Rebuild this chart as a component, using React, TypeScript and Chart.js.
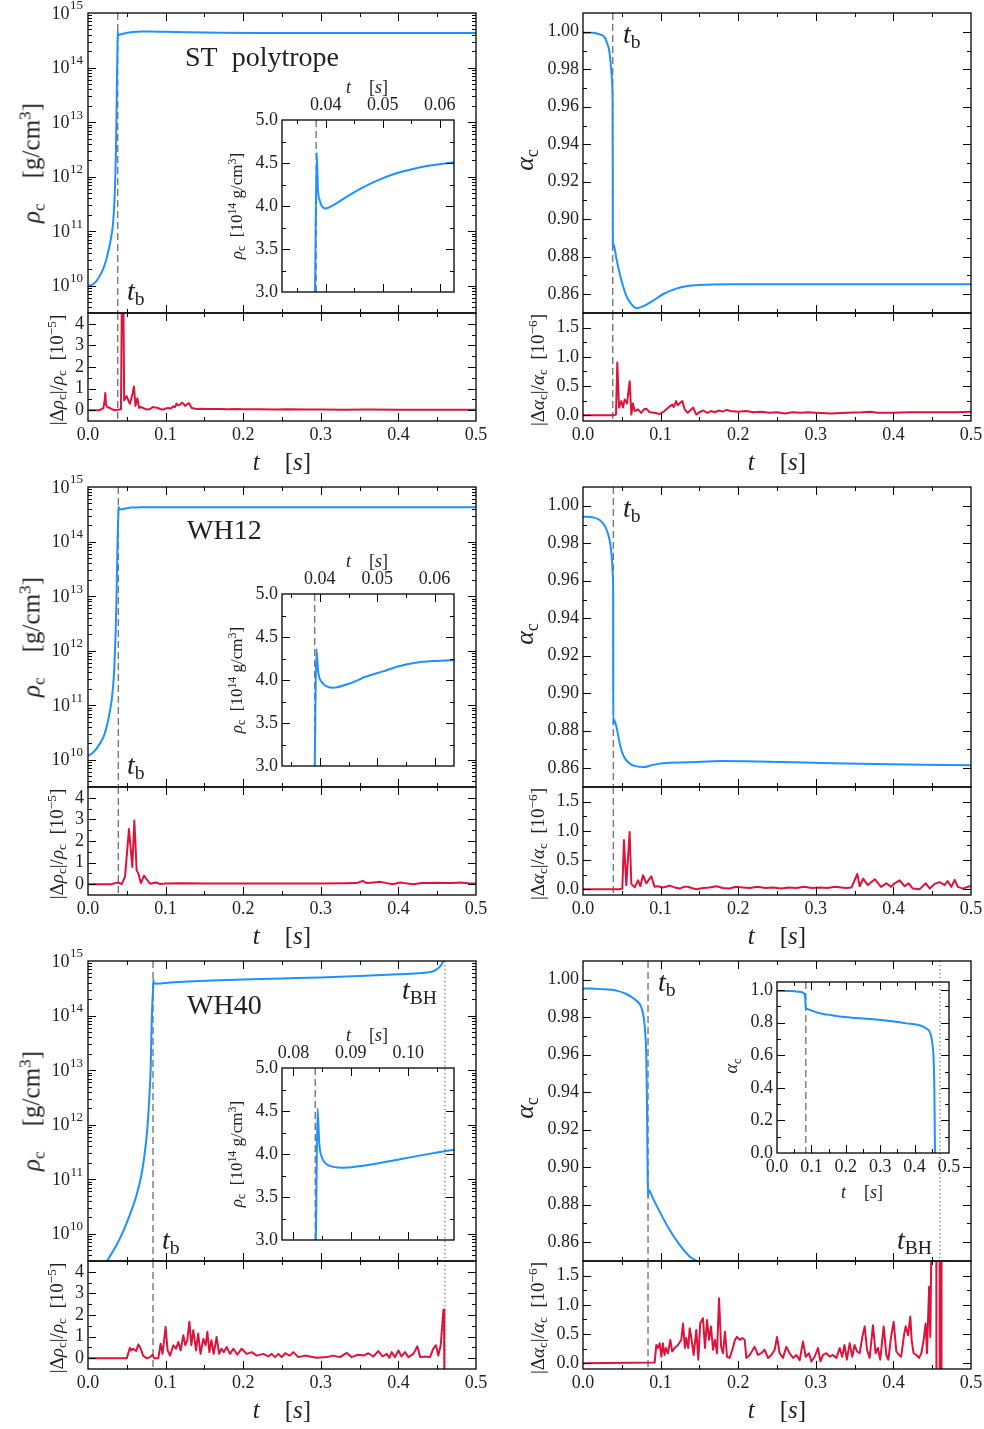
import React, { useEffect, useRef } from "react";
import { Chart, registerables } from "chart.js";
Chart.register(...registerables);

const FONT = '"Liberation Serif", "Times New Roman", serif';
const TXT = "#222222";
const BLUE = "#1e90ff";
const RED = "#dc143c";
const GUIDE = "#777777";

// ---------- ticks ----------
const T_MAJOR = [0, 0.1, 0.2, 0.3, 0.4, 0.5];
const T_MINOR = [0.05, 0.15, 0.25, 0.35, 0.45];
const T_LABELS = ["0.0", "0.1", "0.2", "0.3", "0.4", "0.5"];
const RHO_EXPONENTS = [10, 11, 12, 13, 14, 15];
const RHO_MIN = 10 ** 9.5;
const RHO_MAX = 1e15;
const RHO_MINOR = [9, 10, 11, 12, 13, 14]
  .flatMap((n) => [2, 3, 4, 5, 6, 7, 8, 9].map((k) => k * 10 ** n))
  .filter((v) => v > RHO_MIN && v < RHO_MAX);
const ALPHA_MAJOR = [0.86, 0.88, 0.9, 0.92, 0.94, 0.96, 0.98, 1.0];
const ALPHA_MINOR = [0.87, 0.89, 0.91, 0.93, 0.95, 0.97, 0.99];
const ALPHA_LABELS = ["0.86", "0.88", "0.90", "0.92", "0.94", "0.96", "0.98", "1.00"];
const DRHO_MAJOR = [0, 1, 2, 3, 4];
const DRHO_MINOR = [0.5, 1.5, 2.5, 3.5];
const DRHO_LABELS = ["0", "1", "2", "3", "4"];
const DALPHA_MAJOR = [0, 0.5, 1.0, 1.5];
const DALPHA_MINOR = [0.25, 0.75, 1.25];
const DALPHA_LABELS = ["0.0", "0.5", "1.0", "1.5"];
const INSET_RHO_MAJOR = [3.0, 3.5, 4.0, 4.5, 5.0];
const INSET_RHO_MINOR = [3.25, 3.75, 4.25, 4.75];
const INSET_RHO_LABELS = ["3.0", "3.5", "4.0", "4.5", "5.0"];
const INSET_T_EARLY_MAJOR = [0.04, 0.05, 0.06];
const INSET_T_EARLY_MINOR = [0.035, 0.045, 0.055];
const INSET_T_EARLY_LABELS = ["0.04", "0.05", "0.06"];
const INSET_T_LATE_MAJOR = [0.08, 0.09, 0.1];
const INSET_T_LATE_MINOR = [0.085, 0.095, 0.105];
const INSET_T_LATE_LABELS = ["0.08", "0.09", "0.10"];
const INSET_ALPHA_MAJOR = [0, 0.2, 0.4, 0.6, 0.8, 1.0];
const INSET_ALPHA_MINOR = [0.1, 0.3, 0.5, 0.7, 0.9];
const INSET_ALPHA_LABELS = ["0.0", "0.2", "0.4", "0.6", "0.8", "1.0"];

// ---------- event times ----------
const ST_TB = 0.0383;
const WH12_TB = 0.0391;
const WH40_TB = 0.0838;
const WH40_TBH = 0.46;

// ---------- ST polytrope ----------
const ST_RHO = [[0,1.0e10],[0.005,1.04e10],[0.01,1.18e10],[0.015,1.5e10],[0.02,2.1e10],[0.024,3.2e10],[0.027,4.8e10],[0.03,8.0e10],[0.032,1.26e11],[0.0335,2.5e11],[0.0345,5.0e11],[0.0352,1.0e12],[0.036,3.0e12],[0.0366,1.0e13],[0.0371,3.5e13],[0.0375,1.0e14],[0.0379,2.0e14],[0.0381,3.0e14],[0.0384,4.62e14],[0.0386,4.2e14],[0.0389,4.07e14],[0.0393,4.0e14],[0.0399,3.97e14],[0.0413,4.01e14],[0.0437,4.11e14],[0.0466,4.22e14],[0.0495,4.31e14],[0.0524,4.38e14],[0.0553,4.43e14],[0.0583,4.47e14],[0.0625,4.51e14],[0.07,4.56e14],[0.08,4.58e14],[0.1,4.52e14],[0.13,4.42e14],[0.17,4.35e14],[0.22,4.31e14],[0.3,4.3e14],[0.4,4.3e14],[0.5,4.3e14]];
const ST_DRHO = [[0,0],[0.015,0],[0.0198,0.1],[0.0215,0.45],[0.0223,0.8],[0.0232,0.25],[0.025,0.15],[0.0284,0.1],[0.032,0.03],[0.0348,0],[0.038,0.02],[0.0412,0.03],[0.0425,0.05],[0.0437,5.5],[0.0455,5.5],[0.0466,0.45],[0.0482,0.55],[0.0498,0.65],[0.052,0.45],[0.054,0.3],[0.0555,0.5],[0.0576,0.8],[0.0592,1.1],[0.0612,0.2],[0.0636,0.55],[0.066,0.1],[0.068,0.15],[0.071,0.1],[0.075,0.04],[0.078,0.03],[0.081,0.08],[0.084,0.15],[0.087,0.12],[0.09,0.1],[0.094,0.04],[0.097,0.03],[0.1,0.08],[0.1035,0.1],[0.107,0.08],[0.11,0.18],[0.112,0.15],[0.114,0.3],[0.116,0.22],[0.1186,0.26],[0.121,0.35],[0.123,0.3],[0.125,0.2],[0.127,0.25],[0.13,0.33],[0.1336,0.1],[0.137,0.08],[0.14,0.06],[0.145,0.07],[0.153,0.06],[0.16,0.05],[0.17,0.06],[0.18,0.04],[0.19,0.05],[0.2,0.04],[0.22,0.04],[0.24,0.03],[0.26,0.04],[0.28,0.03],[0.3,0.03],[0.33,0.02],[0.36,0.03],[0.4,0.02],[0.45,0.02],[0.5,0.02]];
const ST_ALPHA = [[0,0.9995],[0.013,0.9995],[0.0215,0.9986],[0.028,0.997],[0.031,0.994],[0.0335,0.9906],[0.035,0.986],[0.0365,0.979],[0.0376,0.972],[0.0381,0.962],[0.0383,0.93],[0.0384,0.886],[0.0388,0.885],[0.0394,0.8867],[0.043,0.879],[0.047,0.8716],[0.0515,0.8645],[0.056,0.859],[0.0623,0.8547],[0.0687,0.8526],[0.0773,0.8535],[0.09,0.8565],[0.103,0.86],[0.12,0.863],[0.137,0.8645],[0.16,0.8651],[0.2,0.8653],[0.3,0.8654],[0.4,0.8653],[0.5,0.8654]];
const ST_DALPHA = [[0,0],[0.04,0],[0.0425,0.01],[0.0442,0.9],[0.0464,0.13],[0.0494,0.24],[0.0515,0.13],[0.0537,0.27],[0.0567,0.2],[0.0601,0.58],[0.0623,0.01],[0.0644,0.2],[0.0666,0.07],[0.0709,0.1],[0.075,0.04],[0.0785,0.1],[0.0816,0.11],[0.086,0.05],[0.092,0.04],[0.0988,0.02],[0.105,0.07],[0.1117,0.15],[0.115,0.18],[0.117,0.14],[0.12,0.24],[0.122,0.17],[0.125,0.21],[0.128,0.24],[0.131,0.1],[0.135,0.04],[0.142,0.13],[0.146,0.01],[0.15,0.05],[0.155,0.08],[0.16,0.04],[0.165,0.07],[0.17,0.05],[0.175,0.08],[0.18,0.06],[0.185,0.09],[0.19,0.07],[0.2,0.06],[0.21,0.07],[0.22,0.05],[0.23,0.06],[0.24,0.04],[0.25,0.05],[0.26,0.03],[0.27,0.05],[0.28,0.04],[0.29,0.05],[0.3,0.04],[0.32,0.03],[0.34,0.04],[0.36,0.05],[0.37,0.06],[0.38,0.04],[0.4,0.04],[0.42,0.05],[0.45,0.05],[0.48,0.05],[0.5,0.06]];

// ---------- WH12 ----------
const WH12_RHO = [[0,1.18e10],[0.005,1.3e10],[0.011,1.6e10],[0.0198,2.6e10],[0.024,4.0e10],[0.0284,8.0e10],[0.0314,1.6e11],[0.034,5.0e11],[0.0357,2.3e12],[0.0368,1.0e13],[0.0378,6.0e13],[0.0386,2.0e14],[0.0391,3.0e14],[0.0394,4.36e14],[0.0397,4.1e14],[0.0403,3.98e14],[0.0414,3.92e14],[0.0423,3.91e14],[0.0452,3.96e14],[0.0481,4.04e14],[0.051,4.1e14],[0.0538,4.16e14],[0.0567,4.2e14],[0.0596,4.22e14],[0.0632,4.23e14],[0.07,4.25e14],[0.08,4.26e14],[0.1,4.27e14],[0.2,4.26e14],[0.3,4.25e14],[0.4,4.25e14],[0.5,4.25e14]];
const WH12_DRHO = [[0,0],[0.03,0],[0.0348,0.05],[0.039,0.08],[0.0434,0],[0.0477,0.35],[0.0528,2.55],[0.0571,0.8],[0.0597,2.95],[0.0627,0.64],[0.0649,0.5],[0.067,0.2],[0.0683,0.05],[0.0722,0.4],[0.0756,0.23],[0.0799,0.02],[0.0876,0.08],[0.093,0.01],[0.1,0.03],[0.12,0.04],[0.15,0.03],[0.2,0.03],[0.25,0.03],[0.3,0.03],[0.33,0.04],[0.346,0.05],[0.354,0.15],[0.359,0.05],[0.368,0.08],[0.376,0.11],[0.385,0.05],[0.393,0],[0.402,0.08],[0.408,0.05],[0.419,0],[0.43,0.06],[0.44,0.05],[0.45,0.07],[0.462,0.06],[0.47,0.05],[0.479,0.08],[0.49,0.04],[0.5,0.03]];
const WH12_ALPHA = [[0,0.9942],[0.0129,0.9938],[0.0215,0.9924],[0.028,0.9894],[0.0322,0.985],[0.0352,0.9796],[0.0374,0.971],[0.0384,0.963],[0.0389,0.95],[0.039,0.8832],[0.0396,0.8862],[0.043,0.8823],[0.0472,0.8735],[0.0515,0.8673],[0.058,0.8632],[0.0687,0.861],[0.0795,0.8607],[0.09,0.8618],[0.103,0.8627],[0.137,0.8632],[0.18,0.8639],[0.223,0.8636],[0.309,0.8628],[0.395,0.8621],[0.5,0.8616]];
const WH12_DALPHA = [[0,0],[0.047,0],[0.0507,0.01],[0.0528,0.84],[0.0558,0.07],[0.0601,0.98],[0.0623,0.09],[0.0666,0.03],[0.0709,0.15],[0.0739,0.05],[0.0773,0.24],[0.0816,0.1],[0.088,0.22],[0.0923,0.04],[0.0966,0.05],[0.103,0.03],[0.1117,0.06],[0.118,0.03],[0.1246,0.01],[0.13,0.04],[0.135,0.04],[0.14,0.02],[0.146,0],[0.155,0.02],[0.163,0.03],[0.172,0.05],[0.18,0.02],[0.189,0.01],[0.197,0.04],[0.206,0.03],[0.215,0.02],[0.225,0.04],[0.235,0.02],[0.245,0.03],[0.255,0.01],[0.265,0.03],[0.275,0.02],[0.285,0.04],[0.295,0.02],[0.305,0.03],[0.315,0.02],[0.325,0.04],[0.333,0.03],[0.339,0.02],[0.346,0.03],[0.3535,0.26],[0.3565,0.05],[0.361,0.18],[0.367,0.07],[0.376,0.17],[0.384,0.04],[0.391,0.1],[0.397,0.04],[0.4016,0.1],[0.408,0.15],[0.4145,0.05],[0.4197,0.1],[0.425,0.01],[0.434,0],[0.4416,0.1],[0.447,0.01],[0.453,0.09],[0.4596,0.12],[0.466,0.07],[0.47,0.14],[0.4746,0.04],[0.479,0.16],[0.483,0.04],[0.4897,0.01],[0.498,0.05],[0.5,0.05]];

// ---------- WH40 ----------
const WH40_RHO = [[0,1.2e9],[0.0232,2.95e9],[0.0284,3.9e9],[0.037,6.3e9],[0.0455,1.12e10],[0.054,2.24e10],[0.0627,5.2e10],[0.069,1.23e11],[0.0735,3.3e11],[0.0765,8.7e11],[0.079,3.1e12],[0.0808,1.1e13],[0.082,6.9e13],[0.0833,2.2e14],[0.0839,3.0e14],[0.0842,4.53e14],[0.0845,4.12e14],[0.0849,3.97e14],[0.0858,3.88e14],[0.087,3.85e14],[0.0887,3.84e14],[0.0928,3.87e14],[0.0986,3.94e14],[0.1044,4.01e14],[0.108,4.05e14],[0.13,4.2e14],[0.16,4.4e14],[0.2,4.6e14],[0.25,4.8e14],[0.3,5.0e14],[0.35,5.3e14],[0.4,5.7e14],[0.43,6.0e14],[0.445,6.5e14],[0.452,7.5e14],[0.456,8.8e14],[0.459,1.1e15],[0.4605,1.4e15]];
const WH40_DRHO = [[0,0],[0.05,0],[0.054,0.48],[0.056,0.36],[0.058,0.44],[0.062,0.33],[0.065,0.64],[0.068,0.44],[0.071,0.12],[0.0756,0],[0.08,0.05],[0.0833,0.16],[0.085,0],[0.0906,0],[0.0936,0.67],[0.096,0.2],[0.1,1.45],[0.1026,0.36],[0.1057,0.12],[0.11,0.6],[0.1134,0.44],[0.1164,0.75],[0.1194,0.36],[0.1228,1.06],[0.1254,0.6],[0.128,0.83],[0.1306,1.69],[0.1332,0.6],[0.1357,1.3],[0.1392,0.36],[0.142,1.14],[0.145,0.2],[0.1486,0.9],[0.1516,0.6],[0.1538,1.22],[0.1564,0.28],[0.159,0.83],[0.162,0.2],[0.1658,0.98],[0.169,0.2],[0.172,0.44],[0.175,0.28],[0.1787,0.52],[0.183,0.2],[0.1873,0.44],[0.1924,0.16],[0.198,0.44],[0.2045,0.2],[0.211,0.28],[0.2174,0.12],[0.226,0.2],[0.2324,0.08],[0.2367,0.2],[0.241,0.05],[0.2453,0.2],[0.2496,0.05],[0.254,0.23],[0.26,0.12],[0.2646,0.28],[0.271,0.05],[0.2796,0.12],[0.286,0.08],[0.2947,0.02],[0.3076,0.05],[0.316,0.12],[0.3247,0.05],[0.3333,0.25],[0.3398,0.05],[0.348,0.16],[0.3548,0.12],[0.3613,0.23],[0.3677,0.08],[0.3741,0.33],[0.3797,0.08],[0.385,0.2],[0.3883,0.02],[0.3913,0.28],[0.3956,0.05],[0.4,0.36],[0.404,0.08],[0.4085,0.28],[0.4128,0.05],[0.4193,0.2],[0.4244,0.55],[0.428,0.05],[0.4343,0.08],[0.4407,0.05],[0.445,0.44],[0.4485,0.6],[0.4514,0.12],[0.4545,0.6],[0.458,2.23],[0.4588,2.25],[0.4592,-1]];
const WH40_ALPHA = [[0,0.9954],[0.0215,0.995],[0.043,0.9942],[0.0558,0.9924],[0.0644,0.9903],[0.0709,0.988],[0.0752,0.9853],[0.0782,0.98],[0.0803,0.9711],[0.0816,0.9587],[0.0825,0.932],[0.0833,0.8967],[0.0838,0.8843],[0.085,0.8878],[0.0902,0.8834],[0.0988,0.8763],[0.1117,0.8665],[0.1246,0.8586],[0.1375,0.8524],[0.147,0.8497],[0.16,0.8455],[0.182,0.838],[0.23,0.829],[0.28,0.821],[0.3275,0.81],[0.376,0.796],[0.4147,0.784],[0.434,0.765],[0.4457,0.735],[0.4515,0.673],[0.4554,0.57],[0.4574,0.388],[0.4593,0.0],[0.46,-0.1]];
const WH40_DALPHA = [[0,0],[0.0923,0.01],[0.0945,0.31],[0.0966,0.26],[0.0988,0.34],[0.101,0.11],[0.103,0.34],[0.105,0.14],[0.107,0.26],[0.1095,0.17],[0.1125,0.4],[0.115,0.2],[0.118,0.26],[0.1224,0.31],[0.1267,0.4],[0.1289,0.68],[0.1314,0.26],[0.133,0.43],[0.1357,0.26],[0.1375,0.6],[0.14,0.4],[0.1426,0.14],[0.146,0.57],[0.1486,0.06],[0.151,0.68],[0.1546,0.77],[0.1572,0.26],[0.1598,0.74],[0.1624,0.4],[0.165,0.63],[0.1675,0.23],[0.17,0.4],[0.1727,0.17],[0.1753,1.11],[0.178,0.28],[0.1804,0.17],[0.183,0.54],[0.1856,0.11],[0.189,0.09],[0.1924,0.23],[0.1959,0.4],[0.1985,0.45],[0.202,0.4],[0.2053,0.43],[0.2083,0.4],[0.2105,0.09],[0.2148,0.14],[0.2212,0.28],[0.2255,0.14],[0.2298,0.17],[0.234,0.23],[0.2384,0.09],[0.2427,0.14],[0.247,0.23],[0.25,0.45],[0.2534,0.17],[0.2577,0.09],[0.262,0.28],[0.2663,0.17],[0.2706,0.09],[0.275,0.14],[0.2792,0.05],[0.2835,0.37],[0.287,0.11],[0.2912,0.17],[0.2943,0.03],[0.2985,0.11],[0.3028,0.26],[0.306,0.03],[0.3093,0.14],[0.3136,0.17],[0.318,0.11],[0.322,0.14],[0.3265,0.09],[0.3308,0.26],[0.334,0.11],[0.337,0.31],[0.34,0.06],[0.3436,0.34],[0.347,0.11],[0.35,0.31],[0.353,0.2],[0.3565,0.17],[0.36,0.45],[0.363,0.63],[0.366,0.23],[0.3694,0.09],[0.3737,0.65],[0.377,0.17],[0.38,0.26],[0.383,0.06],[0.3875,0.63],[0.3909,0.14],[0.3935,0.06],[0.397,0.45],[0.4003,0.71],[0.4038,0.2],[0.4072,0.14],[0.41,0.11],[0.4137,0.48],[0.4158,0.63],[0.419,0.48],[0.4218,0.8],[0.4235,0.4],[0.426,0.17],[0.4296,0.14],[0.433,0.09],[0.436,0.17],[0.439,0.4],[0.4416,0.68],[0.4433,0.17],[0.446,1.31],[0.4476,0.45],[0.4493,2.5],[0.4553,2.5],[0.4555,-1],[0.4594,-1],[0.4596,2.5],[0.4618,2.5],[0.462,-1]];

// ---------- layout ----------
const PL = 72, PR = 28, PT = 28, PB = 30;
const MAJ = 8, MIN = 4;

function axisOpts(a: any, horiz: boolean, top: boolean) {
  const showLabels = !!a.labels && !a.log;
  return {
    type: a.log ? "logarithmic" : "linear",
    position: horiz ? (top ? "top" : "bottom") : "left",
    min: a.min,
    max: a.max,
    grid: { display: false, drawTicks: false },
    border: { display: false },
    ticks: {
      display: showLabels,
      autoSkip: false,
      maxRotation: 0,
      minRotation: 0,
      padding: horiz ? (top ? 4 : 3) : 4,
      color: TXT,
      font: { family: FONT, size: 18 },
      callback: (_v: any, i: number) => (a.labels ? a.labels[i] : ""),
    },
    afterBuildTicks: (s: any) => {
      s.ticks = a.major.map((v: number) => ({ value: v }));
    },
    afterFit: (s: any) => {
      if (horiz) s.height = top ? PT : PB;
      else s.width = PL;
    },
  };
}

function framePlugin(spec: any) {
  return {
    id: "frame",
    beforeDatasetsDraw(chart: any) {
      const { ctx, chartArea: a, scales } = chart;
      ctx.save();
      ctx.beginPath();
      ctx.rect(a.left, a.top, a.right - a.left, a.bottom - a.top);
      ctx.clip();
      for (const v of spec.vlines) {
        const px = scales.x.getPixelForValue(v.x);
        ctx.strokeStyle = GUIDE;
        ctx.lineWidth = v.kind === "dash" ? 1.4 : 1.3;
        ctx.setLineDash(v.kind === "dash" ? [7, 4] : [1.3, 2.7]);
        ctx.beginPath();
        ctx.moveTo(px, a.top);
        ctx.lineTo(px, a.bottom);
        ctx.stroke();
      }
      ctx.restore();
    },
    afterDraw(chart: any) {
      const { ctx, chartArea: a, scales } = chart;
      const xs = scales.x, ys = scales.y;
      ctx.save();
      ctx.strokeStyle = "#000";
      ctx.lineWidth = 1;
      const seg = (x1: number, y1: number, x2: number, y2: number) => {
        ctx.beginPath();
        ctx.moveTo(x1, y1);
        ctx.lineTo(x2, y2);
        ctx.stroke();
      };
      const xt = (vals: number[], len: number) =>
        vals.forEach((v) => {
          const p = Math.round(xs.getPixelForValue(v)) + 0.5;
          if (p < a.left + 1 || p > a.right - 1) return;
          seg(p, a.top, p, a.top + len);
          seg(p, a.bottom, p, a.bottom - len);
        });
      const yt = (vals: number[], len: number) =>
        vals.forEach((v) => {
          const p = Math.round(ys.getPixelForValue(v)) + 0.5;
          if (p < a.top + 1 || p > a.bottom - 1) return;
          seg(a.left, p, a.left + len, p);
          seg(a.right, p, a.right - len, p);
        });
      xt(spec.x.major, MAJ);
      xt(spec.x.minor, MIN);
      yt(spec.y.major, MAJ);
      yt(spec.y.minor, MIN);
      ctx.lineWidth = 1.3;
      ctx.strokeRect(a.left, a.top, a.right - a.left, a.bottom - a.top);
      if (spec.y.log) {
        ctx.fillStyle = TXT;
        ctx.textBaseline = "middle";
        ctx.textAlign = "right";
        for (const n of spec.y.exps) {
          const py = ys.getPixelForValue(10 ** n);
          ctx.font = `13px ${FONT}`;
          const ex = String(n);
          const w = ctx.measureText(ex).width;
          ctx.fillText(ex, a.left - 5, py - 7);
          ctx.font = `18px ${FONT}`;
          ctx.fillText("10", a.left - 5 - w - 0.5, py + 1);
        }
      }
      ctx.restore();
    },
  };
}

function Panel({ spec }: { spec: any }) {
  const ref = useRef<HTMLCanvasElement>(null);
  const cw = spec.w + PL + PR;
  const ch = spec.h + PT + PB;
  const top = spec.x.pos === "top";
  useEffect(() => {
    const chart = new Chart(ref.current as HTMLCanvasElement, {
      type: "line",
      data: {
        datasets: spec.series.map((s: any) => ({
          data: s.pts.map(([t, v]: number[]) => ({ x: t, y: v * (s.scale ?? 1) })),
          borderColor: s.color,
          borderWidth: 2,
          pointRadius: 0,
          tension: 0,
          cubicInterpolationMode: s.smooth ? "monotone" : "default",
          borderJoinStyle: "round",
          fill: false,
        })),
      },
      options: {
        animation: false,
        responsive: false,
        devicePixelRatio: 1,
        events: [],
        layout: {
          autoPadding: false,
          padding: { left: 0, right: PR, top: top ? 0 : PT, bottom: top ? PB : 0 },
        },
        plugins: { legend: { display: false }, tooltip: { enabled: false } },
        scales: {
          x: axisOpts(spec.x, true, top),
          y: axisOpts(spec.y, false, false),
        },
      } as any,
      plugins: [framePlugin(spec)],
    });
    return () => chart.destroy();
  }, []);
  return (
    <canvas
      ref={ref}
      width={cw}
      height={ch}
      style={{ position: "absolute", left: spec.left - PL, top: spec.top - PT, width: cw, height: ch }}
    />
  );
}

// ---------- text helpers ----------
const Sub = ({ children }: any) => (
  <span style={{ fontSize: "0.7em", verticalAlign: "-0.28em", lineHeight: 0, fontStyle: "normal" }}>{children}</span>
);
const Sup = ({ children }: any) => (
  <span style={{ fontSize: "0.7em", verticalAlign: "0.5em", lineHeight: 0, fontStyle: "normal" }}>{children}</span>
);
const I = ({ children }: any) => <span style={{ fontStyle: "italic" }}>{children}</span>;

function Txt({ x, y, size, align = "left", rot = false, children }: any) {
  const style: any = {
    position: "absolute",
    fontFamily: FONT,
    fontSize: size,
    lineHeight: 1,
    whiteSpace: "nowrap",
    color: TXT,
    left: x,
  };
  if (rot) {
    style.top = y;
    style.transform = "translate(-50%, -50%) rotate(-90deg)";
  } else {
    style.top = y - 0.84 * size;
    if (align === "center") style.transform = "translateX(-50%)";
  }
  return <div style={style}>{children}</div>;
}

// ---------- specs ----------
const MODELS = [
  { name: "ST\u00a0\u00a0polytrope", rho: ST_RHO, drho: ST_DRHO, alpha: ST_ALPHA, dalpha: ST_DALPHA, tb: ST_TB, tbh: null as number | null,
    insetX: { min: 0.0323, max: 0.0625, major: INSET_T_EARLY_MAJOR, minor: INSET_T_EARLY_MINOR, labels: INSET_T_EARLY_LABELS } },
  { name: "WH12", rho: WH12_RHO, drho: WH12_DRHO, alpha: WH12_ALPHA, dalpha: WH12_DALPHA, tb: WH12_TB, tbh: null as number | null,
    insetX: { min: 0.0334, max: 0.0634, major: INSET_T_EARLY_MAJOR, minor: INSET_T_EARLY_MINOR, labels: INSET_T_EARLY_LABELS } },
  { name: "WH40", rho: WH40_RHO, drho: WH40_DRHO, alpha: WH40_ALPHA, dalpha: WH40_DALPHA, tb: WH40_TB, tbh: WH40_TBH as number | null,
    insetX: { min: 0.078, max: 0.108, major: INSET_T_LATE_MAJOR, minor: INSET_T_LATE_MINOR, labels: INSET_T_LATE_LABELS } },
];

const X_NOLAB = { min: 0, max: 0.5, major: T_MAJOR, minor: T_MINOR };
const X_LAB = { min: 0, max: 0.5, major: T_MAJOR, minor: T_MINOR, labels: T_LABELS };

function buildSpecs() {
  const specs: any[] = [];
  MODELS.forEach((m, r) => {
    const off = 474 * r;
    const vl = [{ x: m.tb, kind: "dash" }];
    if (m.tbh !== null) vl.push({ x: m.tbh, kind: "dot" });
    specs.push({ left: 88, top: 13 + off, w: 388, h: 300, x: X_NOLAB,
      y: { min: RHO_MIN, max: RHO_MAX, log: true, exps: RHO_EXPONENTS, major: RHO_EXPONENTS.map((n) => 10 ** n), minor: RHO_MINOR },
      series: [{ pts: m.rho, color: BLUE, smooth: true }], vlines: vl });
    specs.push({ left: 88, top: 313 + off, w: 388, h: 108, x: X_LAB,
      y: { min: -0.5, max: 4.5, major: DRHO_MAJOR, minor: DRHO_MINOR, labels: DRHO_LABELS },
      series: [{ pts: m.drho, color: RED }], vlines: vl });
    specs.push({ left: 583, top: 13 + off, w: 388, h: 300, x: X_NOLAB,
      y: { min: 0.85, max: 1.01, major: ALPHA_MAJOR, minor: ALPHA_MINOR, labels: ALPHA_LABELS },
      series: [{ pts: m.alpha, color: BLUE, smooth: true }], vlines: vl });
    specs.push({ left: 583, top: 313 + off, w: 388, h: 108, x: X_LAB,
      y: { min: -0.1, max: 1.75, major: DALPHA_MAJOR, minor: DALPHA_MINOR, labels: DALPHA_LABELS },
      series: [{ pts: m.dalpha, color: RED }], vlines: vl });
  });
  MODELS.forEach((m, r) => {
    const off = 474 * r;
    specs.push({ left: 282, top: 120 + off, w: 172, h: 172, x: { ...m.insetX, pos: "top" },
      y: { min: 3.0, max: 5.0, major: INSET_RHO_MAJOR, minor: INSET_RHO_MINOR, labels: INSET_RHO_LABELS },
      series: [{ pts: m.rho, color: BLUE, scale: 1e-14, smooth: true }], vlines: [{ x: m.tb, kind: "dash" }] });
  });
  specs.push({ left: 777, top: 982, w: 172, h: 171, x: X_LAB,
    y: { min: 0, max: 1.05, major: INSET_ALPHA_MAJOR, minor: INSET_ALPHA_MINOR, labels: INSET_ALPHA_LABELS },
    series: [{ pts: WH40_ALPHA, color: BLUE, smooth: true }], vlines: [{ x: WH40_TB, kind: "dash" }] });
  return specs;
}

const SPECS = buildSpecs();
const NAME_POS = [[185, 66.5], [187, 540], [187, 1015]];
const TB_LEFT = [[127, 301], [127, 775], [162, 1250]];
const TB_RIGHT = [[623, 44], [623, 518], [658, 992]];

export default function App() {
  return (
    <div style={{ position: "absolute", left: 0, top: 0, width: 984, height: 1429, background: "#fff", overflow: "hidden" }}>
      {SPECS.map((s, i) => (
        <Panel key={i} spec={s} />
      ))}
      {MODELS.map((m, r) => {
        const off = 474 * r;
        return (
          <React.Fragment key={r}>
            <Txt x={31} y={163 + off} size={25} rot>
              <I>ρ</I><Sub>c</Sub>{"\u2003"}[g/cm<Sup>3</Sup>]
            </Txt>
            <Txt x={56} y={370 + off} size={19} rot>
              |Δ<I>ρ</I><Sub>c</Sub>|/<I>ρ</I><Sub>c</Sub>{"\u2002"}[10<Sup>−5</Sup>]
            </Txt>
            <Txt x={282} y={470 + off} size={25} align="center">
              <I>t</I>{"\u2003"}[<I>s</I>]
            </Txt>
            <Txt x={525} y={160 + off} size={26} rot>
              <I>α</I><Sub>c</Sub>
            </Txt>
            <Txt x={537} y={370 + off} size={19} rot>
              |Δ<I>α</I><Sub>c</Sub>|/<I>α</I><Sub>c</Sub>{"\u2002"}[10<Sup>−6</Sup>]
            </Txt>
            <Txt x={777} y={470 + off} size={25} align="center">
              <I>t</I>{"\u2003"}[<I>s</I>]
            </Txt>
            <Txt x={NAME_POS[r][0]} y={NAME_POS[r][1]} size={28}>{m.name}</Txt>
            <Txt x={TB_LEFT[r][0]} y={TB_LEFT[r][1]} size={28}><I>t</I><Sub>b</Sub></Txt>
            <Txt x={TB_RIGHT[r][0]} y={TB_RIGHT[r][1]} size={28}><I>t</I><Sub>b</Sub></Txt>
            <Txt x={236} y={206 + off} size={17} rot>
              <I>ρ</I><Sub>c</Sub>{"\u2002"}[10<Sup>14</Sup> g/cm<Sup>3</Sup>]
            </Txt>
            <Txt x={367} y={93 + off} size={18} align="center">
              <I>t</I>{"\u2003"}[<I>s</I>]
            </Txt>
          </React.Fragment>
        );
      })}
      <Txt x={402} y={1000} size={28}><I>t</I><Sub>BH</Sub></Txt>
      <Txt x={897} y={1250} size={28}><I>t</I><Sub>BH</Sub></Txt>
      <Txt x={731} y={1066} size={18} rot><I>α</I><Sub>c</Sub></Txt>
      <Txt x={862} y={1198} size={18} align="center"><I>t</I>{"\u2003"}[<I>s</I>]</Txt>
    </div>
  );
}
